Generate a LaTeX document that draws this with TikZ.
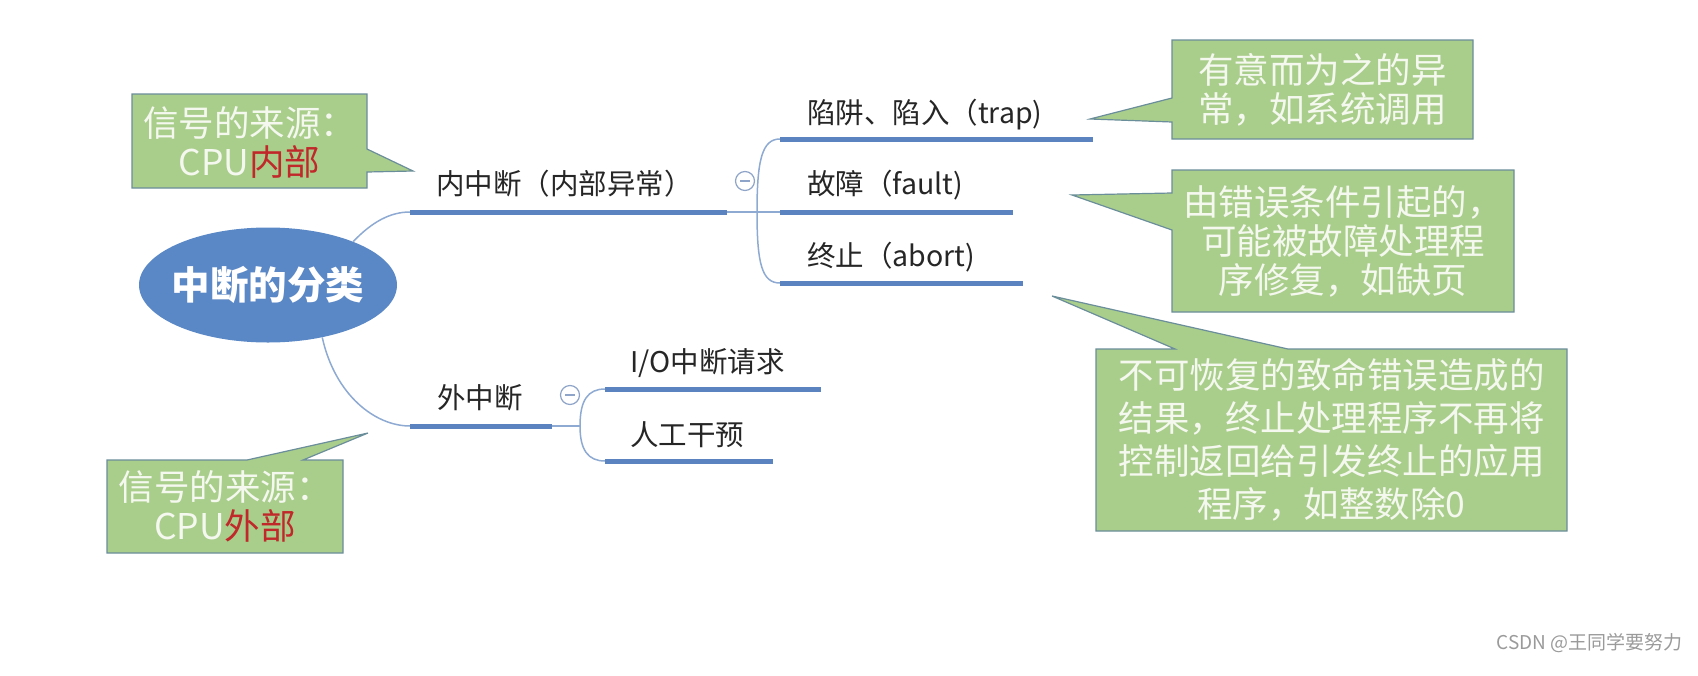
\documentclass[tikz,border=0pt]{standalone}
\usepackage{fontspec}
\setmainfont{Noto Sans CJK SC}
\usetikzlibrary{shapes.geometric}
\definecolor{rootblue}{HTML}{5A87C5}
\definecolor{lineblue}{HTML}{5B83C0}
\definecolor{thinblue}{HTML}{8EAAD3}
\definecolor{callgreen}{HTML}{A9CD8B}
\definecolor{callborder}{HTML}{6B8E9B}
\definecolor{calltxt}{HTML}{F4F8EE}
\definecolor{calred}{HTML}{C0282A}
\definecolor{wmgray}{HTML}{9A9A9A}
\definecolor{circblue}{HTML}{8EA4C8}
\tikzset{
  root/.style={ellipse, fill=rootblue, minimum width=258pt, minimum height=115pt, inner xsep=-12pt, inner ysep=0pt, text=white, font=\fontsize{38.5}{40}\selectfont\bfseries},
  branch/.style={anchor=west, inner sep=0pt, text=black!85, font=\fontsize{28.5}{30}\selectfont},
  thickline/.style={line width=5pt, draw=lineblue},
  thinline/.style={line width=1.5pt, draw=thinblue},
  callout/.style={fill=callgreen, draw=callborder, line width=1.2pt, line join=miter},
  calltext/.style={inner sep=0pt, align=center, text=calltxt, font=\fontsize{35.5}{39}\selectfont},
  collapse/.style={circle, draw=circblue, fill=white, line width=1.2pt, minimum size=19pt, inner sep=0pt},
  minusline/.style={draw=circblue, line width=1.2pt},
}
\begin{document}
\begin{tikzpicture}[x=1pt,y=-1pt]
\useasboundingbox (0,0) rectangle (1698,675);

% root
\node[root] (root) at (268,285) {中断的分类};

% coordinates
\coordinate (inA) at (410,212); \coordinate (inB) at (727,212);
\coordinate (inJ) at (757,212);
\coordinate (trA) at (780,139); \coordinate (trB) at (1093,139);
\coordinate (faA) at (780,212); \coordinate (faB) at (1013,212);
\coordinate (abA) at (780,283); \coordinate (abB) at (1023,283);
\coordinate (exA) at (410,426); \coordinate (exB) at (552,426);
\coordinate (exJ) at (580,426);
\coordinate (ioA) at (605,389); \coordinate (ioB) at (821,389);
\coordinate (hmA) at (605,461); \coordinate (hmB) at (773,461);

% thin connectors
\draw[thinline] (root.27) .. controls (372,222) and (390,212) .. (inA);
\draw[thinline] (root.-44) .. controls (335,395) and (375,426) .. (exA);
\draw[thinline] (inB) -- (faA);
\draw[thinline] (inJ) .. controls (757,160) and (762,139) .. (trA);
\draw[thinline] (inJ) .. controls (757,264) and (762,283) .. (abA);
\draw[thinline] (exB) -- (exJ);
\draw[thinline] (exJ) .. controls (580,400) and (588,389) .. (ioA);
\draw[thinline] (exJ) .. controls (580,450) and (588,461) .. (hmA);

% thick underlines
\draw[thickline] (inA) -- (inB);
\draw[thickline] (trA) -- (trB);
\draw[thickline] (faA) -- (faB);
\draw[thickline] (abA) -- (abB);
\draw[thickline] (exA) -- (exB);
\draw[thickline] (ioA) -- (ioB);
\draw[thickline] (hmA) -- (hmB);

% branch texts
\node[branch] (inT) at (436,184) {内中断（内部异常）};
\node[branch] (trT) at (807,115) {陷阱、陷入（trap)};
\node[branch] (faT) at (807,185) {故障（fault)};
\node[branch] (abT) at (807,257) {终止（abort)};
\node[branch] (exT) at (437,398) {外中断};
\node[branch] (ioT) at (630,363) {I/O中断请求};
\node[branch] (hmT) at (630,435) {人工干预};

% collapse markers
\node[collapse] (c1) at (745,181) {};
\draw[minusline] ([xshift=-5pt]c1.center) -- ([xshift=5pt]c1.center);
\node[collapse] (c2) at (570,395) {};
\draw[minusline] ([xshift=-5pt]c2.center) -- ([xshift=5pt]c2.center);

% callouts
\draw[callout] (132,94) -- (367,94) -- (367,149) -- (413,171) -- (367,172) -- (367,188) -- (132,188) -- cycle;
\node[calltext] (n1) at (249.5,142) {信号的来源：\\CPU\textcolor{calred}{内部}};

\draw[callout] (1172,40) -- (1473,40) -- (1473,139) -- (1172,139) -- (1172,122) -- (1090,119) -- (1172,98) -- cycle;
\node[calltext] (n2) at (1322.5,89.5) {有意而为之的异\\常，如系统调用};

\draw[callout] (1172,170) -- (1514,170) -- (1514,312) -- (1172,312) -- (1172,230) -- (1072,195) -- (1172,193) -- cycle;
\node[calltext] (n3) at (1343,241) {由错误条件引起的，\\可能被故障处理程\\序修复，如缺页};

\draw[callout] (1096,349) -- (1175,349) -- (1052,296) -- (1288,349) -- (1567,349) -- (1567,531) -- (1096,531) -- cycle;
\node[calltext, font=\fontsize{35.5}{43}\selectfont] (n4) at (1331.5,440) {不可恢复的致命错误造成的\\结果，终止处理程序不再将\\控制返回给引发终止的应用\\程序，如整数除0};

\draw[callout] (107,460) -- (247,460) -- (368,433) -- (303,460) -- (343,460) -- (343,553) -- (107,553) -- cycle;
\node[calltext] (n5) at (225,506.5) {信号的来源：\\CPU\textcolor{calred}{外部}};

% watermark
\node[anchor=east, inner sep=0pt, text=wmgray, font=\fontsize{19}{22}\selectfont] (wm) at (1683,643) {CSDN @王同学要努力};
\end{tikzpicture}
\end{document}
